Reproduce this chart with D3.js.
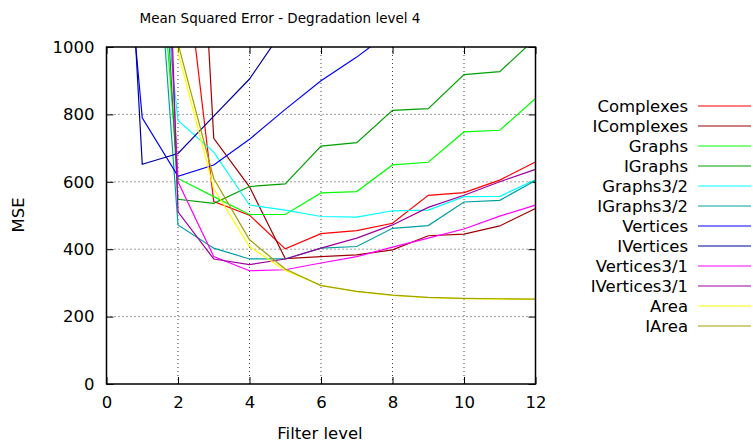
<!DOCTYPE html>
<html>
<head>
<meta charset="utf-8">
<script src="https://cdn.jsdelivr.net/npm/d3@7"></script>
<style>
  body { margin: 0; background: white; }
  text { font-family: "DejaVu Sans", sans-serif; fill: black; }
</style>
</head>
<body>
<script>

// DATI

var filterLevels = [0, 1, 2, 3, 4, 5, 6, 7, 8, 9, 10, 11, 12];

var seriesNames = ["Complexes", "IComplexes", "Graphs", "IGraphs", "Graphs3/2", "IGraphs3/2",
                   "Vertices", "IVertices", "Vertices3/1", "IVertices3/1", "Area", "IArea"];

var seriesColors = ["#ff0000", "#a00000", "#00ff00", "#00a000", "#00ffff", "#00a0a0",
                    "#0000ff", "#0000a0", "#ff00ff", "#a000a0", "#ffff00", "#a0a000"];

var complexes   = [3500, 3000, 1440, 541, 501, 401, 446, 455, 477, 560, 568, 605, 659];
var iComplexes  = [4000, 3500, 2660, 729, 585, 372, 378, 383, 398, 440, 445, 469, 521];
var graphs      = [3000, 1955, 610, 556, 503, 503, 567, 571, 650, 658, 748, 753, 847];
var iGraphs     = [3200, 2430, 548, 536, 586, 594, 706, 716, 812, 817, 918, 927, 1025];
var graphs32    = [3000, 1775, 782, 688, 531, 516, 497, 495, 514, 516, 556, 557, 606];
var iGraphs32   = [2800, 1940, 472, 403, 371, 371, 403, 408, 462, 470, 540, 545, 604];
var vertices    = [1955, 790, 616, 650, 726, 815, 900, 970, 1050, 1130, 1210, 1290, 1370];
var iVertices   = [2580, 652, 684, 795, 905, 1060, 1200, 1350, 1500, 1650, 1800, 1950, 2100];
var vertices31  = [4000, 2820, 600, 378, 336, 339, 359, 378, 406, 433, 460, 498, 531];
var iVertices31 = [4500, 3770, 511, 371, 354, 371, 403, 433, 472, 524, 560, 600, 637];
var area        = [4000, 3000, 985, 580, 408, 337, 293, 274, 263, 256, 253, 252, 251];
var iArea       = [4000, 3000, 1010, 610, 428, 341, 292, 275, 264, 257, 254, 253, 252];

var allSeries = [complexes, iComplexes, graphs, iGraphs, graphs32, iGraphs32,
                 vertices, iVertices, vertices31, iVertices31, area, iArea];

var xTicks = [0, 2, 4, 6, 8, 10, 12];
var yTicks = [0, 200, 400, 600, 800, 1000];


// INIZIALIZZA L'SVG

var width = 753, height = 447;
var plotLeft = 106.5, plotRight = 535.5, plotTop = 47, plotBottom = 384;

var svg = d3.select("body")
    .append("svg")
    .attr("width", width)
    .attr("height", height);

var x = d3.scaleLinear().domain([0, 12]).range([plotLeft, plotRight]);
var y = d3.scaleLinear().domain([0, 1000]).range([plotBottom, plotTop]);


// GRIGLIA

svg.append("g")
    .selectAll("line")
    .data(xTicks.slice(1, -1))
    .enter().append("line")
    .attr("x1", function(d) { return x(d); })
    .attr("x2", function(d) { return x(d); })
    .attr("y1", plotTop)
    .attr("y2", plotBottom)
    .attr("stroke", "#444")
    .attr("stroke-width", 1)
    .attr("stroke-dasharray", "1,3");

svg.append("g")
    .selectAll("line")
    .data(yTicks.slice(1, -1))
    .enter().append("line")
    .attr("x1", plotLeft)
    .attr("x2", plotRight)
    .attr("y1", function(d) { return y(d); })
    .attr("y2", function(d) { return y(d); })
    .attr("stroke", "#444")
    .attr("stroke-width", 1)
    .attr("stroke-dasharray", "1,3");


// ASSI (tacche verso l'interno, anche sopra e a destra)

var tickLen = 7;

svg.append("g")
    .attr("transform", "translate(0," + plotBottom + ")")
    .call(d3.axisBottom(x).tickValues(xTicks).tickFormat(d3.format("d"))
        .tickSizeInner(-tickLen).tickSizeOuter(0).tickPadding(12))
    .call(function(g) {
        g.select(".domain").remove();
        g.selectAll("text").attr("font-size", "16.5px").attr("font-family", "DejaVu Sans");
    });

svg.append("g")
    .attr("transform", "translate(" + plotLeft + ",0)")
    .call(d3.axisLeft(y).tickValues(yTicks).tickFormat(d3.format("d"))
        .tickSizeInner(-tickLen).tickSizeOuter(0).tickPadding(12))
    .call(function(g) {
        g.select(".domain").remove();
        g.selectAll("text").attr("font-size", "16.5px").attr("font-family", "DejaVu Sans");
    });

svg.append("g")
    .attr("transform", "translate(0," + plotTop + ")")
    .call(d3.axisTop(x).tickValues(xTicks).tickSizeInner(-tickLen).tickSizeOuter(0).tickFormat(""))
    .call(function(g) { g.select(".domain").remove(); });

svg.append("g")
    .attr("transform", "translate(" + plotRight + ",0)")
    .call(d3.axisRight(y).tickValues(yTicks).tickSizeInner(-tickLen).tickSizeOuter(0).tickFormat(""))
    .call(function(g) { g.select(".domain").remove(); });


// LINEE DELLE SERIE

svg.append("clipPath")
    .attr("id", "plotClip")
    .append("rect")
    .attr("x", plotLeft)
    .attr("y", plotTop)
    .attr("width", plotRight - plotLeft)
    .attr("height", plotBottom - plotTop);

var line = d3.line()
    .x(function(d, i) { return x(filterLevels[i]); })
    .y(function(d) { return y(d); });

svg.append("g")
    .attr("clip-path", "url(#plotClip)")
    .selectAll("path")
    .data(allSeries)
    .enter().append("path")
    .attr("d", line)
    .attr("fill", "none")
    .attr("stroke", function(d, i) { return seriesColors[i]; })
    .attr("stroke-width", 1.2);


// BORDO

svg.append("rect")
    .attr("x", plotLeft)
    .attr("y", plotTop)
    .attr("width", plotRight - plotLeft)
    .attr("height", plotBottom - plotTop)
    .attr("fill", "none")
    .attr("stroke", "black")
    .attr("stroke-width", 1.5);


// TITOLO ED ETICHETTE

svg.append("text")
    .attr("x", 280)
    .attr("y", 23)
    .attr("text-anchor", "middle")
    .attr("font-size", "13.5px")
    .text("Mean Squared Error - Degradation level 4");

svg.append("text")
    .attr("x", 320)
    .attr("y", 439)
    .attr("text-anchor", "middle")
    .attr("font-size", "16.5px")
    .text("Filter level");

svg.append("text")
    .attr("transform", "translate(24,215) rotate(-90)")
    .attr("text-anchor", "middle")
    .attr("font-size", "16.5px")
    .text("MSE");


// LEGENDA

var legend = svg.append("g")
    .selectAll("g")
    .data(seriesNames)
    .enter().append("g")
    .attr("transform", function(d, i) { return "translate(0," + (106 + i * 20) + ")"; });

legend.append("text")
    .attr("x", 688)
    .attr("y", 0)
    .attr("dy", "0.35em")
    .attr("text-anchor", "end")
    .attr("font-size", "16.5px")
    .text(function(d) { return d; });

legend.append("line")
    .attr("x1", 698)
    .attr("x2", 751)
    .attr("y1", 0)
    .attr("y2", 0)
    .attr("stroke", function(d, i) { return seriesColors[i]; })
    .attr("stroke-width", 1.2);

</script>
</body>
</html>
